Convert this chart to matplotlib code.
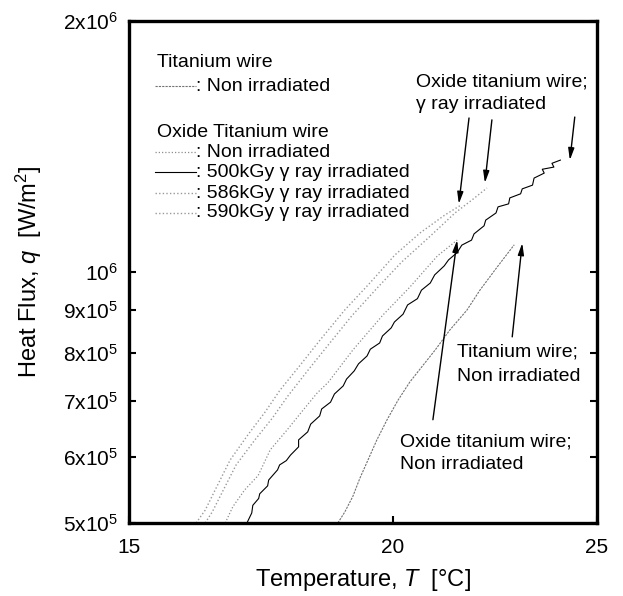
import numpy as np
import matplotlib
matplotlib.use("Agg")
import matplotlib.pyplot as plt
from matplotlib.ticker import FixedLocator, NullLocator

plt.rcParams["font.family"] = ["Liberation Sans", "DejaVu Sans"]
plt.rcParams["mathtext.fontset"] = "custom"
plt.rcParams["mathtext.rm"] = "Liberation Sans"
plt.rcParams["mathtext.it"] = "Liberation Sans:italic"

# Temperature [C] and heat flux [1e5 W/m2]
ti_non_T = [18.84, 18.98, 19.15, 19.30, 19.47, 19.66, 19.88, 20.12, 20.38,
            20.66, 20.95, 21.29, 21.69, 22.00, 22.42, 22.84]
ti_non_q = [5.00, 5.15, 5.38, 5.66, 5.95, 6.29, 6.65, 7.02, 7.38,
            7.71, 8.06, 8.52, 9.00, 9.51, 10.14, 10.78]

ox_non_T = [16.66, 16.80, 17.02, 17.27, 17.50, 17.82, 18.14, 18.42, 18.64,
            19.15, 19.79, 20.38, 21.00, 21.46]
ox_non_q = [5.00, 5.23, 5.48, 5.70, 6.12, 6.46, 6.83, 7.16, 7.37,
            8.06, 8.88, 9.59, 10.45, 10.92]

ox_500_T = [17.06, 17.15, 17.17, 17.28, 17.30, 17.45, 17.47, 17.64, 17.68,
            17.81, 17.89, 18.05, 18.05, 18.23, 18.29, 18.47, 18.51, 18.69,
            18.77, 18.95, 19.02, 19.18, 19.27, 19.45, 19.52, 19.72, 19.78,
            19.97, 20.04, 20.23, 20.33, 20.55, 20.64, 20.84, 20.94, 21.16,
            21.26, 21.46, 21.57, 21.80, 21.86, 22.10, 22.14, 22.39, 22.44,
            22.70, 22.73, 23.00, 23.04, 23.30, 23.34, 23.60, 23.55, 23.85,
            23.80, 24.02]
ox_500_q = [5.00, 5.14, 5.25, 5.35, 5.42, 5.54, 5.63, 5.79, 5.87,
            5.94, 6.03, 6.17, 6.29, 6.43, 6.57, 6.72, 6.85, 6.98,
            7.14, 7.30, 7.44, 7.61, 7.76, 7.93, 8.08, 8.22, 8.38,
            8.57, 8.71, 8.90, 9.13, 9.29, 9.51, 9.70, 9.92, 10.17,
            10.34, 10.55, 10.77, 10.92, 11.11, 11.36, 11.54, 11.77, 11.97,
            12.07, 12.27, 12.41, 12.58, 12.71, 12.96, 13.14, 13.28, 13.36,
            13.50, 13.62]

ox_586_T = [16.30, 16.43, 16.61, 16.86, 17.21, 17.54, 17.84, 18.24, 18.64,
            19.13, 19.66, 20.20, 20.79, 21.41, 21.81, 22.17]
ox_586_q = [5.00, 5.16, 5.45, 5.87, 6.29, 6.68, 7.10, 7.63, 8.17,
            8.86, 9.56, 10.28, 10.98, 11.77, 12.20, 12.61]

ox_590_T = [16.14, 16.30, 16.48, 16.75, 17.08, 17.40, 17.69, 18.08, 18.48,
            18.98, 19.51, 20.05, 20.61, 21.17, 21.55]
ox_590_q = [5.00, 5.18, 5.48, 5.95, 6.38, 6.79, 7.22, 7.73, 8.29,
            9.00, 9.70, 10.48, 11.14, 11.70, 12.03]

y_ticks = [5e5, 6e5, 7e5, 8e5, 9e5, 1e6, 2e6]
y_labels = ["5x10$^5$", "6x10$^5$", "7x10$^5$", "8x10$^5$", "9x10$^5$",
            "10$^6$", "2x10$^6$"]
x_ticks = [15, 20, 25]

DOT = (0, (1, 1.6))
DASH = (0, (2, 1))

fig = plt.figure(figsize=(6.23, 5.96), dpi=100)
ax = fig.add_axes([0.2071, 0.1225, 0.7512, 0.8423])

e5 = lambda v: np.array(v) * 1e5
ax.plot(ti_non_T, e5(ti_non_q), color="0.45", lw=0.8, ls=DASH)
ax.plot(ox_non_T, e5(ox_non_q), color="0.55", lw=0.9, ls=DOT)
ax.plot(ox_590_T, e5(ox_590_q), color="0.6", lw=1.0, ls=DOT)
ax.plot(ox_586_T, e5(ox_586_q), color="0.6", lw=1.0, ls=DOT)
ax.plot(ox_500_T, e5(ox_500_q), color="black", lw=0.8)

ax.set_xscale("log")
ax.set_yscale("log")
ax.set_xlim(15, 25)
ax.set_ylim(5e5, 2e6)

ax.xaxis.set_major_locator(FixedLocator(x_ticks))
ax.xaxis.set_minor_locator(NullLocator())
ax.set_xticklabels([str(t) for t in x_ticks])
ax.yaxis.set_major_locator(FixedLocator(y_ticks))
ax.yaxis.set_minor_locator(NullLocator())
ax.set_yticklabels(y_labels)
ax.tick_params(direction="in", length=5, width=1.5, labelsize=15, right=True)
ax.tick_params(axis="x", pad=11)
ax.tick_params(axis="y", pad=8)

for s in ax.spines.values():
    s.set_linewidth(2.4)

ax.set_xlabel("Temperature, $T$  [°C]", fontsize=17, labelpad=7)
ax.set_ylabel("Heat Flux, $q$  [W/m$^2$]", fontsize=17, labelpad=14)

# legend, drawn by hand like the original
tr = ax.transAxes
fs = 14
ax.text(0.060, 0.918, "Titanium wire", transform=tr, fontsize=fs, va="center")
ax.text(0.060, 0.777, "Oxide Titanium wire", transform=tr, fontsize=fs, va="center")
rows = [
    (0.870, ": Non irradiated", dict(color="0.45", lw=0.8, ls=DASH)),
    (0.739, ": Non irradiated", dict(color="0.55", lw=0.9, ls=DOT)),
    (0.699, ": 500kGy γ ray irradiated", dict(color="black", lw=0.8)),
    (0.657, ": 586kGy γ ray irradiated", dict(color="0.6", lw=1.0, ls=DOT)),
    (0.618, ": 590kGy γ ray irradiated", dict(color="0.6", lw=1.0, ls=DOT)),
]
for yy, label, st in rows:
    ax.plot([0.056, 0.143], [yy, yy], transform=tr, **st)
    ax.text(0.143, yy, label, transform=tr, fontsize=fs, va="center")

ax.text(0.613, 0.878, "Oxide titanium wire;", transform=tr, fontsize=fs, va="center")
ax.text(0.613, 0.833, "γ ray irradiated", transform=tr, fontsize=fs, va="center")
ax.text(0.701, 0.341, "Titanium wire;", transform=tr, fontsize=fs, va="center")
ax.text(0.701, 0.291, "Non irradiated", transform=tr, fontsize=fs, va="center")
ax.text(0.579, 0.161, "Oxide titanium wire;", transform=tr, fontsize=fs, va="center")
ax.text(0.579, 0.116, "Non irradiated", transform=tr, fontsize=fs, va="center")

arrows = [
    ((21.74, 15.30e5), (21.50, 12.07e5)),
    ((22.29, 15.22e5), (22.12, 12.79e5)),
    ((24.40, 15.34e5), (24.27, 13.62e5)),
    ((22.79, 8.36e5), (23.04, 10.83e5)),
    ((20.90, 6.65e5), (21.46, 10.92e5)),
]
for start, tip in arrows:
    ax.annotate("", xy=tip, xytext=start,
                arrowprops=dict(arrowstyle="-|>,head_length=0.7,head_width=0.18",
                                color="black", lw=1.0, shrinkA=0, shrinkB=0))

fig.savefig("out.png", dpi=100, facecolor="white")
